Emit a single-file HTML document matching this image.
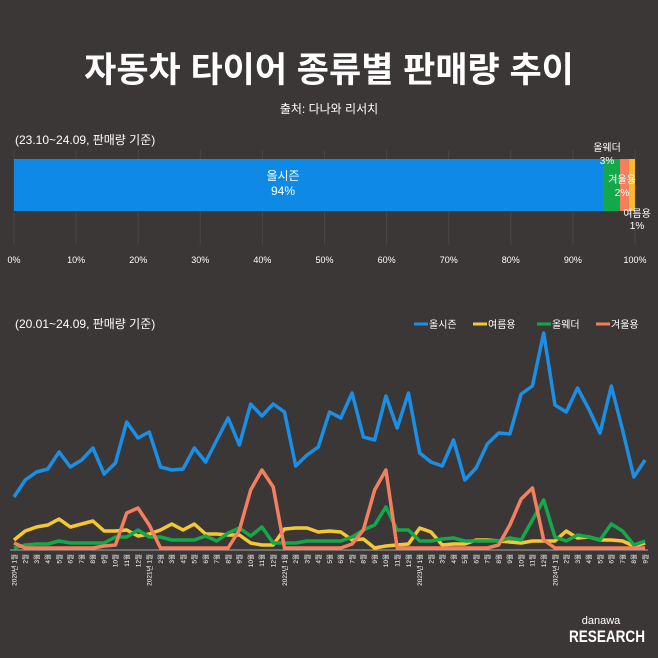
<!DOCTYPE html>
<html><head><meta charset="utf-8"><style>
body{margin:0;background:#3b3736;}
svg{display:block;font-family:"Liberation Sans","Noto Sans CJK KR",sans-serif;}
</style></head><body>
<svg id="s" width="658" height="658" viewBox="0 0 658 658">
<rect width="658" height="658" fill="#3b3736"/>
<text x="329" y="82" text-anchor="middle" fill="#fff" font-size="35" font-weight="bold">자동차 타이어 종류별 판매량 추이</text>
<text x="329" y="113" text-anchor="middle" fill="#fff" font-size="12">출처: 다나와 리서치</text>
<text x="15" y="144" fill="#fff" font-size="12">(23.10~24.09, 판매량 기준)</text>
<g id="grid" stroke="#4a4645" stroke-width="1"></g>
<rect x="14" y="159" width="589" height="52" fill="#0e8ae6"/>
<rect x="603" y="159" width="17" height="52" fill="#13a84a"/>
<rect x="620" y="159" width="9" height="52" fill="#f47f5f"/>
<rect x="629" y="159" width="6" height="52" fill="#f9b92c"/>
<text x="283" y="180" text-anchor="middle" fill="#fff" font-size="12">올시즌</text>
<text x="283" y="195" text-anchor="middle" fill="#fff" font-size="12">94%</text>
<text x="607" y="151" text-anchor="middle" fill="#fff" font-size="10">올웨더</text>
<text x="607" y="164" text-anchor="middle" fill="#fff" font-size="10">3%</text>
<text x="622" y="183" text-anchor="middle" fill="#fff" font-size="10">겨울용</text>
<text x="622" y="196" text-anchor="middle" fill="#fff" font-size="10">2%</text>
<text x="637" y="217" text-anchor="middle" fill="#fff" font-size="10">여름용</text>
<text x="637" y="229" text-anchor="middle" fill="#fff" font-size="10">1%</text>
<g id="pct" fill="#fff" font-size="9" text-anchor="middle"></g>
<text x="15" y="328" fill="#fff" font-size="12">(20.01~24.09, 판매량 기준)</text>
<g font-size="10" fill="#fff">
<line x1="414" y1="324" x2="428" y2="324" stroke="#1b8fe5" stroke-width="3"/><text x="429" y="328">올시즌</text>
<line x1="473" y1="324" x2="487" y2="324" stroke="#f5c832" stroke-width="3"/><text x="488" y="328">여름용</text>
<line x1="537" y1="324" x2="551" y2="324" stroke="#13a84a" stroke-width="3"/><text x="552" y="328">올웨더</text>
<line x1="596" y1="324" x2="610" y2="324" stroke="#f47f5f" stroke-width="3"/><text x="611" y="328">겨울용</text>
</g>
<line x1="10" y1="550" x2="648" y2="550" stroke="#aaa" stroke-width="1"/>
<g id="lines" fill="none" stroke-width="3.5" stroke-linejoin="round"></g>
<g id="xl" fill="#fff" font-size="6.5"></g>
<text x="601" y="624" text-anchor="middle" fill="#fff" font-size="11">danawa</text>
<text x="569" y="642" fill="#fff" font-size="17" font-weight="bold" textLength="76" lengthAdjust="spacingAndGlyphs">RESEARCH</text>
</svg>
<script>
var ns="http://www.w3.org/2000/svg";
function el(t,a,p,txt){var e=document.createElementNS(ns,t);for(var k in a)e.setAttribute(k,a[k]);if(txt)e.textContent=txt;document.getElementById(p).appendChild(e);return e;}
for(var i=0;i<=10;i++){var x=14+i*62.1;el('line',{x1:x,y1:150,x2:x,y2:245},'grid');el('text',{x:x,y:263},'pct',(i*10)+'%');}
var B=[497,480,472,469,452,467,460,448,474,463,422,438,432,467,470,469,448,462,440,418,445,404,416,404,412,466,455,447,412,418,393,437,440,396,428,393,453,462,466,440,480,468,444,433,434,394,386,333,405,412,388,409,433,386,430,477,460];
var Y=[540,531,527,525,519,527,524,521,531,531,530,536,534,530,524,530,524,534,534,535,535,543,545,545,529,528,528,532,531,532,540,539,548,546,545,544,528,532,545,544,544,540,540,541,542,543,541,541,541,531,538,537,540,540,541,546,543];
var G=[548,545,544,544,541,543,543,543,543,537,537,530,537,537,540,540,540,536,541,533,528,536,527,543,543,543,541,541,541,541,537,530,525,507,530,530,541,541,539,538,541,541,541,541,538,540,520,500,537,541,535,537,540,524,531,545,541];
var O=[543,548,548,548,548,548,548,548,546,545,513,508,525,548,548,548,548,548,548,548,530,490,470,487,548,548,548,548,548,548,544,530,490,470,548,548,548,548,548,548,548,548,548,545,525,499,488,540,548,548,548,548,548,548,548,548,548];
function X(i){return 14+i*11.27;}
[[Y,'#f5c832'],[G,'#13a84a'],[O,'#f47f5f'],[B,'#1b8fe5']].forEach(function(s){
 el('polyline',{points:s[0].map(function(v,i){return X(i)+','+v}).join(' '),stroke:s[1]},'lines');});
for(var i=0;i<57;i++){var m=i%12+1,yr=2020+Math.floor(i/12);var lab=(m==1?yr+'년 ':'')+m+'월';
 el('text',{transform:'translate('+(X(i)+2.3)+',554) rotate(-90)','text-anchor':'end'},'xl',lab);}
</script>
</body></html>
